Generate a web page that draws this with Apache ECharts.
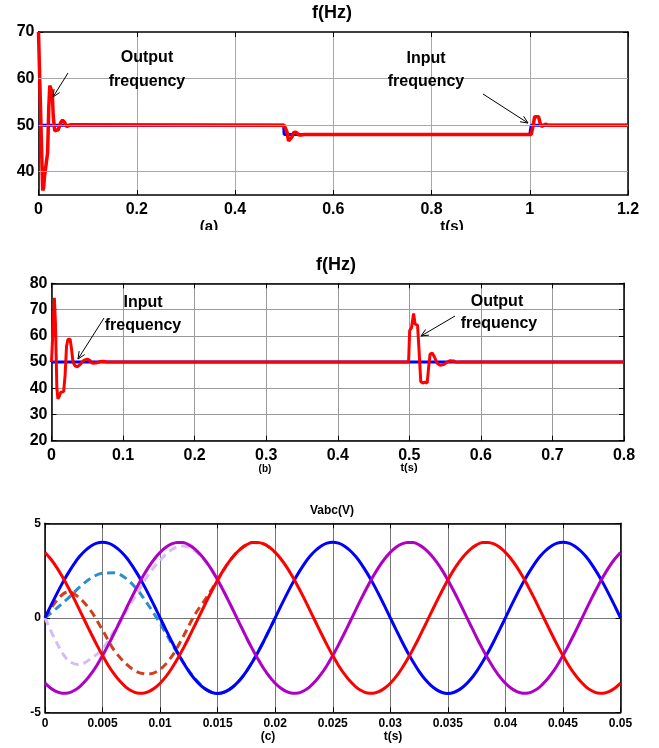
<!DOCTYPE html>
<html>
<head>
<meta charset="utf-8">
<script src="https://cdn.jsdelivr.net/npm/echarts@6/dist/echarts.min.js"></script>
<style>
  html, body { margin: 0; padding: 0; background: #fff; }
  #wrap { position: relative; width: 659px; height: 748px; overflow: hidden; background: #fff; }
  .panel { position: absolute; left: 0; width: 659px; overflow: hidden; }
</style>
</head>
<body>
<div id="wrap">
  <div id="pa" class="panel" style="top:0;height:230px"></div>
  <div id="pb" class="panel" style="top:230px;height:250px"></div>
  <div id="pc" class="panel" style="top:480px;height:268px"></div>
</div>
<script>
// ---------- (a) input frequency step 50 -> 48 -> 50 Hz ----------
const aTimeIn = [0, 0.499, 0.5, 1.0, 1.003, 1.2];
const aFreqIn = [50, 50, 48, 48, 50, 50];
const aTimeOut = [0, 0.003, 0.0085, 0.0105, 0.012, 0.016, 0.0185, 0.021, 0.023, 0.026, 0.028, 0.030, 0.033, 0.036,
  0.040, 0.045, 0.049, 0.053, 0.057, 0.061, 0.066, 0.070,
  0.500, 0.503, 0.506, 0.509, 0.513, 0.516, 0.520, 0.525, 0.530, 0.535, 0.540,
  1.003, 1.007, 1.010, 1.014, 1.018, 1.021, 1.024, 1.028, 1.032, 1.037, 1.2];
const aFreqOut = [70, 70, 36, 36.5, 38.8, 39, 44, 54, 58.5, 58.8, 57, 52, 48.8, 48.4,
  49, 50.5, 51.1, 50.6, 49.7, 49.8, 50.1, 50,
  50, 49.8, 48.5, 46.6, 46.4, 47.5, 48.5, 48.4, 47.9, 47.9, 48,
  48, 50, 51.8, 52, 51.8, 50.5, 49.7, 50.1, 50.2, 50, 50];
const aYTicks = [40, 50, 60, 70];

// ---------- (b) output frequency step at 0.5 s ----------
const bTimeIn = [0, 0.8];
const bFreqIn = [50, 50];
const bTimeOut = [0, 0.002, 0.004, 0.0055, 0.0075, 0.009, 0.011, 0.013, 0.017, 0.019, 0.021, 0.023, 0.026, 0.028,
  0.030, 0.033, 0.036, 0.040, 0.045, 0.050, 0.054, 0.057, 0.062, 0.068, 0.073, 0.078,
  0.499, 0.5005, 0.503, 0.506, 0.508, 0.5115, 0.5135, 0.516, 0.519, 0.522, 0.525, 0.527, 0.529, 0.532,
  0.535, 0.539, 0.543, 0.548, 0.552, 0.557, 0.562, 0.566, 0.571, 0.8];
const bFreqOut = [50, 62, 74.5, 65, 40, 36, 37, 38.5, 38.7, 45, 56, 58.7, 58.7, 55,
  50, 48.5, 48.2, 49, 50.6, 51.1, 50.5, 49.5, 49.6, 50.2, 50.3, 50,
  50, 62, 63, 68.5, 64.5, 64, 55, 42.5, 42, 42.3, 42, 48, 53, 53.4,
  52, 49.5, 48.8, 49, 49.8, 50.5, 50.4, 49.9, 50, 50];

// ---------- (c) three-phase voltages, 0.5 ms samples ----------
const cTime = [0, 0.0005, 0.001, 0.0015, 0.002, 0.0025, 0.003, 0.0035, 0.004, 0.0045,
  0.005, 0.0055, 0.006, 0.0065, 0.007, 0.0075, 0.008, 0.0085, 0.009, 0.0095,
  0.010, 0.0105, 0.011, 0.0115, 0.012, 0.0125, 0.013, 0.0135, 0.014, 0.0145,
  0.015, 0.0155, 0.016, 0.0165, 0.017, 0.0175, 0.018, 0.0185, 0.019, 0.0195,
  0.020, 0.0205, 0.021, 0.0215, 0.022, 0.0225, 0.023, 0.0235, 0.024, 0.0245,
  0.025, 0.0255, 0.026, 0.0265, 0.027, 0.0275, 0.028, 0.0285, 0.029, 0.0295,
  0.030, 0.0305, 0.031, 0.0315, 0.032, 0.0325, 0.033, 0.0335, 0.034, 0.0345,
  0.035, 0.0355, 0.036, 0.0365, 0.037, 0.0375, 0.038, 0.0385, 0.039, 0.0395,
  0.040, 0.0405, 0.041, 0.0415, 0.042, 0.0425, 0.043, 0.0435, 0.044, 0.0445,
  0.045, 0.0455, 0.046, 0.0465, 0.047, 0.0475, 0.048, 0.0485, 0.049, 0.0495, 0.050];
const vaOut = [
  0, 0.63, 1.24, 1.82, 2.35, 2.83, 3.24, 3.56, 3.80, 3.95, 4.00, 3.95, 3.80, 3.56, 3.24, 2.83, 2.35, 1.82, 1.24, 0.63,
  0, -0.63, -1.24, -1.82, -2.35, -2.83, -3.24, -3.56, -3.80, -3.95, -4.00, -3.95, -3.80, -3.56, -3.24, -2.83, -2.35, -1.82, -1.24, -0.63,
  0, 0.63, 1.24, 1.82, 2.35, 2.83, 3.24, 3.56, 3.80, 3.95, 4.00, 3.95, 3.80, 3.56, 3.24, 2.83, 2.35, 1.82, 1.24, 0.63,
  0, -0.63, -1.24, -1.82, -2.35, -2.83, -3.24, -3.56, -3.80, -3.95, -4.00, -3.95, -3.80, -3.56, -3.24, -2.83, -2.35, -1.82, -1.24, -0.63,
  0, 0.63, 1.24, 1.82, 2.35, 2.83, 3.24, 3.56, 3.80, 3.95, 4.00, 3.95, 3.80, 3.56, 3.24, 2.83, 2.35, 1.82, 1.24, 0.63,
  0];
const vbOut = [
  -3.46, -3.73, -3.91, -3.99, -3.98, -3.86, -3.65, -3.35, -2.97, -2.52, -2.00, -1.43, -0.83, -0.21, 0.42, 1.04, 1.63, 2.18, 2.68, 3.11,
  3.46, 3.73, 3.91, 3.99, 3.98, 3.86, 3.65, 3.35, 2.97, 2.52, 2.00, 1.43, 0.83, 0.21, -0.42, -1.04, -1.63, -2.18, -2.68, -3.11,
  -3.46, -3.73, -3.91, -3.99, -3.98, -3.86, -3.65, -3.35, -2.97, -2.52, -2.00, -1.43, -0.83, -0.21, 0.42, 1.04, 1.63, 2.18, 2.68, 3.11,
  3.46, 3.73, 3.91, 3.99, 3.98, 3.86, 3.65, 3.35, 2.97, 2.52, 2.00, 1.43, 0.83, 0.21, -0.42, -1.04, -1.63, -2.18, -2.68, -3.11,
  -3.46, -3.73, -3.91, -3.99, -3.98, -3.86, -3.65, -3.35, -2.97, -2.52, -2.00, -1.43, -0.83, -0.21, 0.42, 1.04, 1.63, 2.18, 2.68, 3.11,
  3.46];
const vcOut = [
  3.46, 3.11, 2.68, 2.18, 1.63, 1.04, 0.42, -0.21, -0.83, -1.43, -2.00, -2.52, -2.97, -3.35, -3.65, -3.86, -3.98, -3.99, -3.91, -3.73,
  -3.46, -3.11, -2.68, -2.18, -1.63, -1.04, -0.42, 0.21, 0.83, 1.43, 2.00, 2.52, 2.97, 3.35, 3.65, 3.86, 3.98, 3.99, 3.91, 3.73,
  3.46, 3.11, 2.68, 2.18, 1.63, 1.04, 0.42, -0.21, -0.83, -1.43, -2.00, -2.52, -2.97, -3.35, -3.65, -3.86, -3.98, -3.99, -3.91, -3.73,
  -3.46, -3.11, -2.68, -2.18, -1.63, -1.04, -0.42, 0.21, 0.83, 1.43, 2.00, 2.52, 2.97, 3.35, 3.65, 3.86, 3.98, 3.99, 3.91, 3.73,
  3.46, 3.11, 2.68, 2.18, 1.63, 1.04, 0.42, -0.21, -0.83, -1.43, -2.00, -2.52, -2.97, -3.35, -3.65, -3.86, -3.98, -3.99, -3.91, -3.73,
  -3.46];
// start-up transients, 1 ms samples over the first 20 ms
const cTimeStart = [0, 0.001, 0.002, 0.003, 0.004, 0.005, 0.006, 0.007, 0.008, 0.009,
  0.010, 0.011, 0.012, 0.013, 0.014, 0.015, 0.016, 0.017, 0.018, 0.019, 0.020];
const vaStart = [0, 0.5, 1.03, 1.62, 2.1, 2.36, 2.38, 2.1, 1.5, 0.65,
  -0.3, -1.35, -2.35, -3.2, -3.78, -4.0, -3.8, -3.24, -2.35, -1.24, 0];
const vbStart = [0, -1.3, -2.25, -2.48, -2.15, -1.65, -0.7, 0.3, 1.3, 2.3,
  3.05, 3.6, 3.8, 3.55, 2.95, 2.0, 0.83, -0.42, -1.63, -2.68, -3.46];
const vcStart = [0, 0.9, 1.38, 1.05, 0.35, -0.65, -1.71, -2.41, -2.86, -2.98,
  -2.73, -2.06, -1.0, 0.15, 1.05, 2.0, 2.97, 3.65, 3.98, 3.91, 3.46];

const FONT = '"Liberation Sans", Arial, Helvetica, sans-serif';

function zip(xs, ys) { return xs.map((x, i) => [x, ys[i]]); }

function boxAxis(base, pos, gridColor, labelSize, margin, showLabel, showSplit) {
  return Object.assign({
    type: 'value',
    position: pos,
    axisLine: { show: true, onZero: false, lineStyle: { color: '#000', width: 1.5 } },
    axisTick: { show: true, inside: true, length: 5, lineStyle: { color: '#000', width: 1 } },
    axisLabel: { show: showLabel, margin: margin, color: '#000', fontSize: labelSize, fontWeight: 'bold', fontFamily: FONT },
    splitLine: { show: showSplit, lineStyle: { color: gridColor, width: 1, type: 'solid' } }
  }, base);
}

function arrow(x1, y1, x2, y2) {
  const a = Math.atan2(y2 - y1, x2 - x1), L = 8, w = 0.42;
  const p1 = [x2 - L * Math.cos(a - w), y2 - L * Math.sin(a - w)];
  const p2 = [x2 - L * Math.cos(a + w), y2 - L * Math.sin(a + w)];
  return [
    { type: 'line', z: 100, shape: { x1: x1, y1: y1, x2: x2, y2: y2 }, style: { stroke: '#000', lineWidth: 1 } },
    { type: 'polyline', z: 100, shape: { points: [p1, [x2, y2], p2] }, style: { stroke: '#000', lineWidth: 1, fill: null } }
  ];
}

function label(text, x, y, size, vAlign) {
  return {
    type: 'text', z: 100, x: x, y: y,
    style: {
      text: text, fill: '#000', font: 'bold ' + size + 'px ' + FONT,
      textAlign: 'center', textVerticalAlign: vAlign || 'middle',
      align: 'center', verticalAlign: vAlign || 'middle'
    }
  };
}

// ---------- panel (a) ----------
const chartA = echarts.init(document.getElementById('pa'), null, { renderer: 'canvas' });
chartA.setOption({
  animation: false,
  grid: { left: 38.5, top: 32, right: 31, bottom: 35 },
  xAxis: [
    boxAxis({ min: 0, max: 1.2, interval: 0.2 }, 'bottom', '#a8a8a8', 16, 7, true, true),
    boxAxis({ min: 0, max: 1.2, interval: 0.2 }, 'top', '#a8a8a8', 16, 7, false, false)
  ],
  yAxis: [
    boxAxis({ min: 35, max: 70, interval: 5,
      axisTick: { show: true, inside: true, length: 5, customValues: aYTicks, lineStyle: { color: '#000' } } },
      'left', '#a8a8a8', 16, 4, true, false),
    boxAxis({ min: 35, max: 70, interval: 5,
      axisTick: { show: true, inside: true, length: 5, customValues: aYTicks, lineStyle: { color: '#000' } } },
      'right', '#a8a8a8', 16, 4, false, false)
  ],
  series: [
    {
      name: 'grid', type: 'line', data: [], silent: true, z: 1,
      markLine: {
        silent: true, symbol: ['none', 'none'], label: { show: false }, animation: false,
        lineStyle: { color: '#a8a8a8', width: 1, type: 'solid' },
        data: aYTicks.filter(v => v < 70).map(v => ({ yAxis: v }))
      }
    },
    { name: 'Input frequency', type: 'line', data: zip(aTimeIn, aFreqIn), showSymbol: false, z: 2,
      lineStyle: { color: '#0000ff', width: 3 } },
    { name: 'Output frequency', type: 'line', data: zip(aTimeOut, aFreqOut), showSymbol: false, z: 3,
      lineStyle: { color: '#ff0000', width: 3.5 } }
  ],
  graphic: [
    label('f(Hz)', 332, 13, 18),
    label('Output', 147, 58, 16),
    label('frequency', 147, 82, 16),
    label('Input', 426, 59, 16),
    label('frequency', 426, 82, 16),
    label('(a)', 209, 219, 15, 'top'),
    label('t(s)', 452, 219, 15, 'top')
  ].concat(arrow(68, 73, 53, 97), arrow(483, 94, 528, 123))
});
chartA.setOption({ yAxis: [{ axisLabel: { customValues: aYTicks } }, {}] });

// ---------- panel (b) ----------
const chartB = echarts.init(document.getElementById('pb'), null, { renderer: 'canvas' });
chartB.setOption({
  animation: false,
  grid: { left: 51.5, top: 53.3, right: 35, bottom: 39.3 },
  xAxis: [
    boxAxis({ min: 0, max: 0.8, interval: 0.1 }, 'bottom', '#9a9a9a', 16, 7, true, true),
    boxAxis({ min: 0, max: 0.8, interval: 0.1 }, 'top', '#9a9a9a', 16, 7, false, false)
  ],
  yAxis: [
    boxAxis({ min: 20, max: 80, interval: 10 }, 'left', '#9a9a9a', 16, 4, true, true),
    boxAxis({ min: 20, max: 80, interval: 10 }, 'right', '#9a9a9a', 16, 4, false, false)
  ],
  series: [
    { name: 'Input frequency', type: 'line', data: zip(bTimeIn, bFreqIn), showSymbol: false, z: 2,
      lineStyle: { color: '#0000ff', width: 3 } },
    { name: 'Output frequency', type: 'line', data: zip(bTimeOut, bFreqOut), showSymbol: false, z: 3,
      lineStyle: { color: '#ff0000', width: 3 } }
  ],
  graphic: [
    label('f(Hz)', 336, 35, 18),
    label('Input', 143, 73, 16),
    label('frequency', 143, 96, 16),
    label('Output', 497, 72, 16),
    label('frequency', 499, 94, 16),
    label('(b)', 265, 239, 10),
    label('t(s)', 409, 238, 11)
  ].concat(arrow(104, 88, 78, 129), arrow(455, 86, 421, 106))
});

// ---------- panel (c) ----------
const chartC = echarts.init(document.getElementById('pc'), null, { renderer: 'canvas' });
const solid = (name, ys, color) => ({
  name: name, type: 'line', data: zip(cTime, ys), showSymbol: false, smooth: 0.33, z: 3,
  lineStyle: { color: color, width: 3 }
});
const dashed = (name, ys, color) => ({
  name: name, type: 'line', data: zip(cTimeStart, ys), showSymbol: false, smooth: 0.33, z: 2,
  lineStyle: { color: color, width: 3, type: [8, 5] }
});
chartC.setOption({
  animation: false,
  grid: { left: 45, top: 43.3, right: 38.5, bottom: 35.7 },
  xAxis: [
    boxAxis({ min: 0, max: 0.05, interval: 0.005 }, 'bottom', '#777777', 12, 5, true, true),
    boxAxis({ min: 0, max: 0.05, interval: 0.005 }, 'top', '#777777', 12, 5, false, false)
  ],
  yAxis: [
    boxAxis({ min: -5, max: 5, interval: 5 }, 'left', '#777777', 12, 4, true, true),
    boxAxis({ min: -5, max: 5, interval: 5 }, 'right', '#777777', 12, 4, false, false)
  ],
  series: [
    dashed('Va start', vaStart, '#2a8fcc'),
    dashed('Vb start', vbStart, '#d4bdf5'),
    dashed('Vc start', vcStart, '#d0401a'),
    solid('Va', vaOut, '#0000ff'),
    solid('Vb', vbOut, '#b000c4'),
    solid('Vc', vcOut, '#ff0000')
  ],
  graphic: [
    label('Vabc(V)', 332, 31, 12),
    label('(c)', 268, 257, 12),
    label('t(s)', 393, 257, 12)
  ]
});
</script>
</body>
</html>
